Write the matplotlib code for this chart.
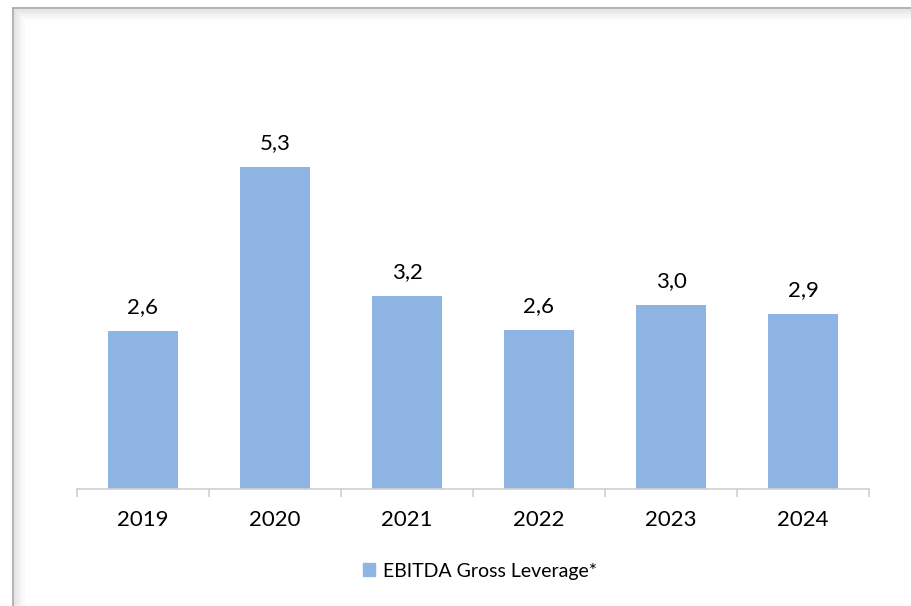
import matplotlib.pyplot as plt
from matplotlib.lines import Line2D
from matplotlib.patches import Patch

years = ["2019", "2020", "2021", "2022", "2023", "2024"]
leverage = [2.60, 5.30, 3.18, 2.62, 3.04, 2.89]
labels = ["2,6", "5,3", "3,2", "2,6", "3,0", "2,9"]
series_name = "EBITDA Gross Leverage*"

bar_color = "#8EB4E3"
plt.rcParams["font.family"] = ["Lato", "DejaVu Sans"]

fig = plt.figure(figsize=(9.12, 6.06), dpi=100)

# frame with a soft inner shadow
W, H = 912, 606
for i, c in enumerate(["#A6A6A6", "#E4E4E4", "#EAEAEA", "#F0F0F0", "#F5F5F5", "#FAFAFA"]):
    lw = 1.2 if i == 0 else 2.0
    y = 1 - (8 + i * 2) / H
    x = (13 + i * 2) / W
    fig.add_artist(Line2D([x, 1], [y, y], color=c, lw=lw, transform=fig.transFigure))
    fig.add_artist(Line2D([x, x], [0, y], color=c, lw=lw, transform=fig.transFigure))

ax = fig.add_axes([77 / W, 117 / H, 792 / W, 364 / H])
x = range(len(years))
ax.bar(x, leverage, width=0.53, color=bar_color)

for xi, v, lab in zip(x, leverage, labels):
    ax.annotate(lab, (xi, v), xytext=(0, 10), textcoords="offset points",
                ha="center", va="bottom", fontsize=16, color="#000000")

ax.set_xlim(-0.5, len(years) - 0.5)
ax.set_ylim(0, 6)
ax.set_yticks([])
ax.set_xticks(list(x))
ax.set_xticklabels(years, fontsize=16)
ax.set_xticks([i - 0.5 for i in range(len(years) + 1)], minor=True)
ax.tick_params(axis="x", which="major", length=0, pad=15)
ax.tick_params(axis="x", which="minor", length=5.5, width=1.2, color="#D0D0D0", direction="out")
for s in ["top", "right", "left"]:
    ax.spines[s].set_visible(False)
ax.spines["bottom"].set_color("#D0D0D0")
ax.spines["bottom"].set_linewidth(1.2)

fig.legend(handles=[Patch(color=bar_color, label=series_name)],
           loc="center", bbox_to_anchor=(480 / W, 1 - 571 / H), frameon=False,
           fontsize=14, handlelength=0.65, handleheight=0.65, handletextpad=0.4)

fig.savefig("out.png", dpi=100, facecolor="white")
